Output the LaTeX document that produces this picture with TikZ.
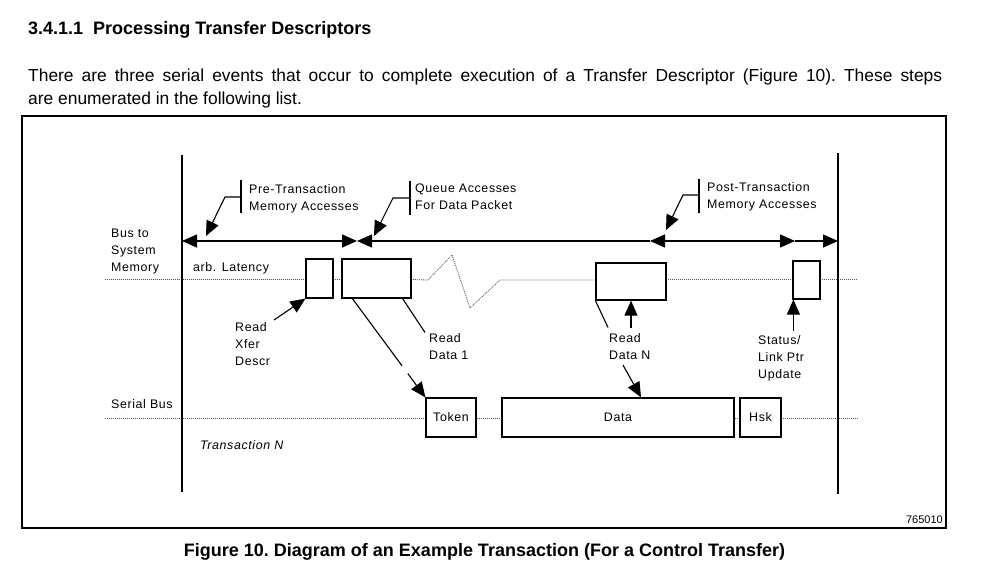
\documentclass[tikz,border=0pt]{standalone}
\usepackage{fontspec}
\setmainfont{Liberation Sans}
\newfontfamily\diagfont[LetterSpace=5]{Liberation Sans}
\usetikzlibrary{arrows.meta}
\usetikzlibrary{calc}
\newcommand{\busmemy}{279.5}
\newcommand{\serbusy}{418}
\tikzstyle{slot}=[draw=black,line width=1.2pt,fill=white,inner sep=0pt]
\tikzstyle{busline}=[draw=black!65,line width=0.8pt,dash pattern=on 1pt off 1pt]
\tikzstyle{lifeline}=[draw=black,line width=1.8pt]
\tikzstyle{timeline}=[draw=black,line width=1.4pt]
\tikzstyle{bigarrow}=[draw=black,line width=1.1pt,->]
\tikzstyle{leader}=[draw=black,line width=1.1pt]
\tikzstyle{lbl}=[font=\diagfont\fontsize{12.4}{17}\selectfont,inner sep=0pt,align=left,anchor=north west]

\begin{document}
\begin{tikzpicture}[x=1pt,y=-1pt,>={Triangle[length=15pt,width=13pt]}]
  \path[fill=white] (0,0) rectangle (986,575);
  % Page text.
  \node[anchor=west,inner sep=0pt,font=\bfseries\fontsize{18}{21}\selectfont] (head) at (28,30) {3.4.1.1\hspace{10pt}Processing Transfer Descriptors};
  \node[anchor=north west,inner sep=0pt,text width=914pt,align=justify,font=\frenchspacing\fontsize{17.4}{23}\selectfont] (intro) at (28,69) {There are three serial events that occur to complete execution of a Transfer Descriptor (Figure 10). These steps\linebreak are enumerated in the following list.};
  \draw[line width=2.5pt] (22,116) rectangle (946,528);
  \node[anchor=east,inner sep=0pt,font=\fontsize{11}{13}\selectfont] (figno) at (943,520) {765010};
  \node[inner sep=0pt,font=\frenchspacing\bfseries\fontsize{18}{21}\selectfont] (caption) at (484.5,552) {Figure 10. Diagram of an Example Transaction (For a Control Transfer)};
  % Bus lines.
  \draw[busline] (105,\busmemy) -- (411,\busmemy) -- (428,280) -- (452,255) -- (470,308) -- (500,280) -- (596,280);
  \draw[busline] (596,\busmemy) -- (858,\busmemy);
  \draw[busline] (105,\serbusy) -- (858,\serbusy);
  \draw[lifeline] (182,155) -- (182,492);
  \draw[lifeline] (838,153) -- (838,494);
  % Time line.
  \coordinate (t0) at (182,241);
  \coordinate (t1) at (357,241);
  \coordinate (t2) at (650,241);
  \coordinate (t3) at (795,241);
  \coordinate (t4) at (838,241);
  \draw[timeline,<->] (t0) -- (t1);
  \draw[timeline,<-] (t1) -- (t2);
  \draw[timeline,<->] (t2) -- (t3);
  \draw[timeline,->] (t3) -- (t4);
  % Memory accesses.
  \node[slot,minimum width=27pt,minimum height=39pt] (xfer) at (319.5,278.5) {};
  \node[slot,minimum width=69pt,minimum height=39pt] (data1) at (376.5,278.5) {};
  \node[slot,minimum width=70pt,minimum height=37pt] (datan) at (631,281.5) {};
  \node[slot,minimum width=27pt,minimum height=38pt] (status) at (806.5,280) {};
  % Serial bus packets.
  \node[slot,minimum width=50pt,minimum height=39pt,font=\diagfont\fontsize{12.4}{14}\selectfont] (token) at (451,417.5) {Token};
  \node[slot,minimum width=232pt,minimum height=39pt,font=\diagfont\fontsize{12.4}{14}\selectfont] (data) at (618,417.5) {Data};
  \node[slot,minimum width=41pt,minimum height=39pt,font=\diagfont\fontsize{12.4}{14}\selectfont] (hsk) at (760.5,417.5) {Hsk};
  % Labels.
  \node[lbl] (busmem) at (111,228.5) {Bus to\\System\\Memory};
  \node[lbl] (arb) at (193,262.5) {arb. Latency};
  \node[lbl] (serial) at (111,399.5) {Serial Bus};
  \node[lbl,font=\diagfont\itshape\fontsize{12.4}{17}\selectfont] (trans) at (200,440.5) {Transaction N};
  \node[lbl] (pre) at (249,184.5) {Pre-Transaction\\Memory Accesses};
  \node[lbl] (queue) at (415,183.5) {Queue Accesses\\For Data Packet};
  \node[lbl] (post) at (707,182.5) {Post-Transaction\\Memory Accesses};
  \node[lbl] (rxd) at (235,322.5) {Read\\Xfer\\Descr};
  \node[lbl] (rd1) at (429,333.5) {Read\\Data 1};
  \node[lbl] (rdn) at (609,333.5) {Read\\Data N};
  \node[lbl] (stat) at (758,335.5) {Status/\\Link Ptr\\Update};
  % Callouts.
  \draw[leader] (241,180) -- (241,213);
  \draw[leader] (410,181) -- (410,215);
  \draw[leader] (699,179) -- (699,213);
  \draw[bigarrow] (241,197) -- (225,197) -- (206,236);
  \draw[bigarrow] (410,198) -- (393,198) -- (374,236);
  \draw[bigarrow] (699,195) -- (683,195) -- (666,230);
  % Reads and writes.
  \coordinate (xs) at (274,320);
  \draw[bigarrow] (xs) -- (xfer.south west);
  \coordinate (ts) at ($(data1.south west)+(11,0)$);
  \draw[leader] (ts) -- ($(ts)!0.68!(token.north west)$);
  \draw[bigarrow] ($(ts)!0.76!(token.north west)$) -- (token.north west);
  \draw[leader] ($(data1.south east)+(-9,0)$) -- ($(rd1.north west)+(-4,-1)$);
  \draw[leader] (datan.south west) -- ($(rdn.north west)+(-1,-6)$);
  \draw[bigarrow] ($(datan.south)+(0,27)$) -- (datan.south);
  \coordinate (ds) at (623,365);
  \draw[bigarrow] (ds) -- ($(data.north)+(23,0)$);
  \draw[bigarrow] ($(status.south west)+(1,31)$) -- ($(status.south west)+(1,0)$);
\end{tikzpicture}
\end{document}
